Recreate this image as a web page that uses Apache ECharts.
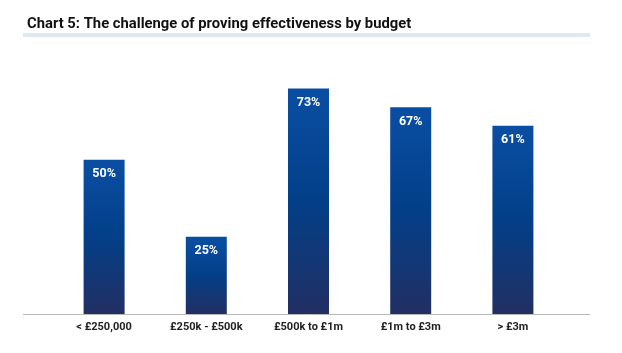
<!DOCTYPE html>
<html><head><meta charset="utf-8">
<script src="https://cdn.jsdelivr.net/npm/echarts@6/dist/echarts.min.js"></script>
<style>html,body{margin:0;padding:0;background:#fff}#c{width:622px;height:353px}</style>
</head><body><div id="c"></div>
<script>
const categories = ['< £250,000', '£250k - £500k', '£500k to £1m', '£1m to £3m', '> £3m'];
const values = [50, 25, 73, 67, 61];
const titleText = 'Chart 5: The challenge of proving effectiveness by budget';

const chart = echarts.init(document.getElementById('c'));
const barGrad = new echarts.graphic.LinearGradient(0, 0, 0, 1, [
  {offset: 0, color: '#0a4ea3'},
  {offset: 0.5, color: '#033f88'},
  {offset: 1, color: '#222f63'}
]);
chart.setOption({
  animation: false,
  title: {text: titleText, left: 22, top: 12,
    textStyle: {fontFamily: 'Roboto', fontWeight: 'bold', fontSize: 14.8, color: '#111'}},
  graphic: [
    {type: 'rect', shape: {x: 23, y: 33, width: 567, height: 4}, style: {fill: '#dde9f1'}},
    {type: 'line', shape: {x1: 23, y1: 314.5, x2: 590, y2: 314.5}, style: {stroke: '#b8b8b8', lineWidth: 1}, z: 10}
  ],
  grid: {left: 53, right: 58, top: 67, bottom: 39},
  xAxis: {type: 'category', data: categories,
    axisLine: {show: false}, axisTick: {show: false},
    axisLabel: {color: '#222', fontFamily: 'Roboto', fontWeight: 'bold', fontSize: 11, margin: 8}},
  yAxis: {type: 'value', min: 0, max: 80, show: false, splitLine: {show: false}},
  series: [{type: 'bar', data: values, barWidth: 41,
    itemStyle: {color: barGrad},
    label: {show: true, position: 'insideTop', distance: 8, formatter: '{c}%',
      color: '#fff', fontFamily: 'Roboto', fontWeight: 'bold', fontSize: 12.5}}]
});
</script></body></html>
